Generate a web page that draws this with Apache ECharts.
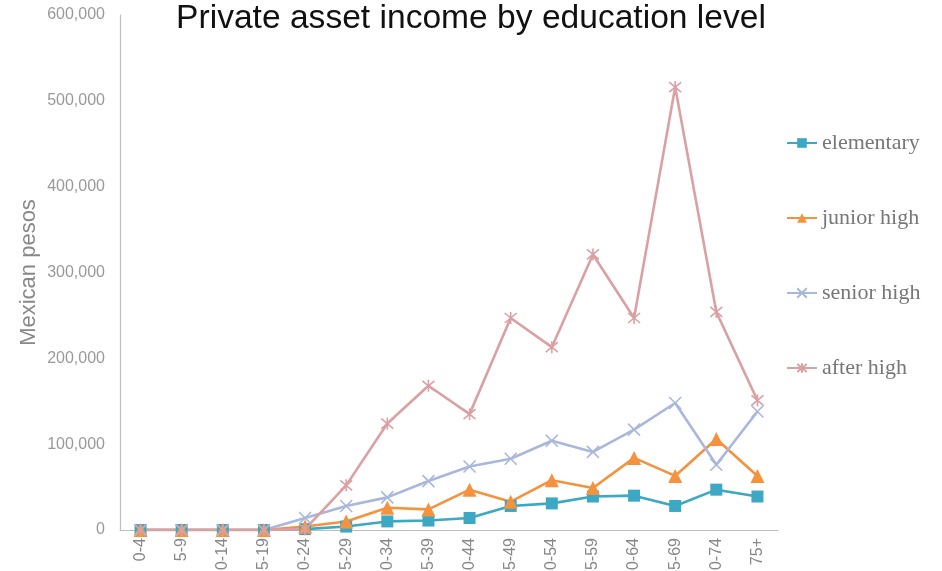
<!DOCTYPE html>
<html>
<head>
<meta charset="utf-8">
<script src="https://cdn.jsdelivr.net/npm/echarts@6/dist/echarts.min.js"></script>
<style>
  html, body { margin: 0; padding: 0; background: #fff; }
  #chart { width: 942px; height: 571px; }
</style>
</head>
<body>
<div id="chart"></div>
<script>
// Age groups along the horizontal axis
const ageGroups = ['0-4', '5-9', '10-14', '15-19', '20-24', '25-29', '30-34', '35-39',
                   '40-44', '45-49', '50-54', '55-59', '60-64', '65-69', '70-74', '75+'];

// Private asset income (Mexican pesos) per age group, by education level
const elementary = [0, 0, 0, 0, 1000, 4000, 10000, 11000, 14000, 28000, 31000, 39000, 40000, 28000, 47000, 39000];
const juniorHigh = [0, 0, 0, 0, 4000, 10000, 26000, 24000, 47000, 33000, 58000, 49000, 84000, 63000, 106000, 63000];
const seniorHigh = [0, 0, 0, 0, 14000, 28000, 38000, 57000, 74000, 83000, 104000, 91000, 117000, 148000, 76000, 138000];
const afterHigh  = [0, 0, 0, 0, 1000, 52000, 124000, 168000, 135000, 247000, 213000, 321000, 247000, 516000, 254000, 151000];

const seriesNames = ['elementary', 'junior high', 'senior high', 'after high'];

const chart = echarts.init(document.getElementById('chart'), null, { renderer: 'canvas' });

const crossPath = 'path://M0,0L10,10M10,0L0,10';
const starPath = 'path://M0,0L10,10M10,0L0,10M5,-1L5,11';

function lineSeries(name, data, color, symbol, size, stroked) {
  return {
    name: name,
    type: 'line',
    data: data,
    symbol: symbol,
    symbolSize: size,
    showAllSymbol: true,
    lineStyle: { color: color, width: 2.6 },
    itemStyle: stroked
      ? { color: color, borderColor: color, borderWidth: 1.6 }
      : { color: color, borderWidth: 0 },
    emphasis: { disabled: true }
  };
}

chart.setOption({
  animation: false,
  backgroundColor: '#ffffff',
  title: {
    text: 'Private asset income by education level',
    left: 'center',
    top: -3,
    textStyle: { fontFamily: 'Liberation Sans', fontSize: 33.6, fontWeight: 'normal', color: '#111' }
  },
  legend: {
    orient: 'vertical',
    left: 781,
    top: 127,
    itemWidth: 30,
    itemHeight: 12,
    itemGap: 53,
    data: seriesNames,
    textStyle: { fontFamily: 'Liberation Serif', fontSize: 22, color: '#777' }
  },
  grid: { left: 120, right: 164, top: 15, bottom: 41, containLabel: false, outerBoundsMode: 'none' },
  xAxis: {
    type: 'category',
    data: ageGroups,
    boundaryGap: true,
    axisLine: { lineStyle: { color: '#bdbdbd', width: 1.2 } },
    axisTick: { show: false },
    axisLabel: {
      rotate: 90,
      margin: 8,
      interval: 0,
      fontFamily: 'Liberation Sans',
      fontSize: 16,
      color: '#888'
    }
  },
  yAxis: {
    type: 'value',
    min: 0,
    max: 600000,
    interval: 100000,
    name: 'Mexican pesos',
    nameLocation: 'middle',
    nameRotate: 90,
    nameGap: 80,
    nameMoveOverlap: false,
    nameTextStyle: { fontFamily: 'Liberation Sans', fontSize: 22, color: '#888' },
    axisLine: { show: true, lineStyle: { color: '#bdbdbd', width: 1.2 } },
    axisTick: { show: false },
    splitLine: { show: false },
    axisLabel: {
      margin: 15,
      fontFamily: 'Liberation Sans',
      fontSize: 16,
      color: '#999',
      formatter: function (v) { return v.toLocaleString('en-US'); }
    }
  },
  series: [
    lineSeries(seriesNames[0], elementary, '#3da8c4', 'rect', 12, false),
    lineSeries(seriesNames[1], juniorHigh, '#f5923e', 'triangle', 14, false),
    lineSeries(seriesNames[2], seniorHigh, '#aab7dc', crossPath, 12, true),
    lineSeries(seriesNames[3], afterHigh, '#dba0a4', starPath, 12, true)
  ]
});
</script>
</body>
</html>
